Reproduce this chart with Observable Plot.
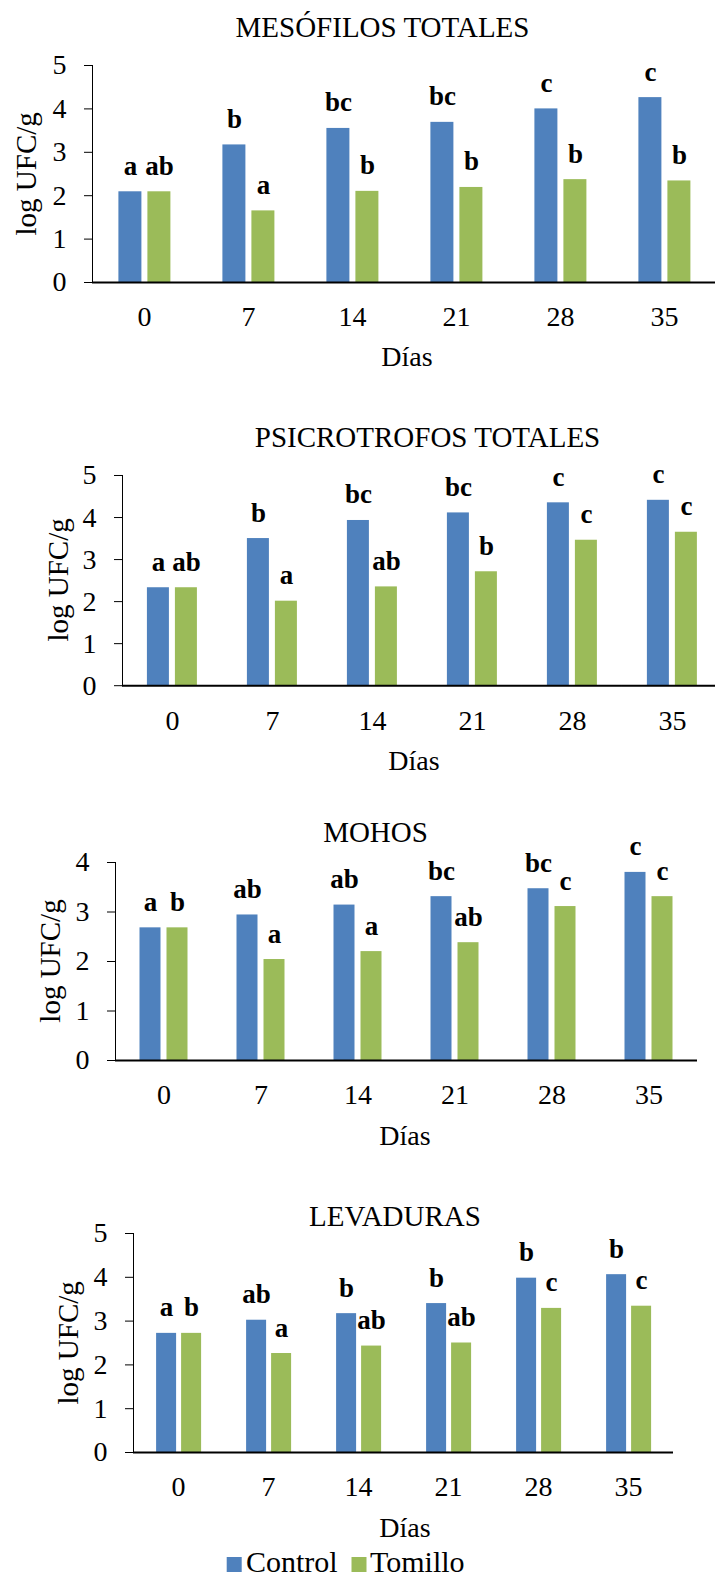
<!DOCTYPE html>
<html><head><meta charset="utf-8">
<script src="https://cdn.jsdelivr.net/npm/d3@7"></script>
<script src="https://cdn.jsdelivr.net/npm/@observablehq/plot@0.6"></script>
<style>
html,body{margin:0;padding:0;background:#fff;}
#page{position:relative;width:715px;height:1580px;overflow:hidden;}
#page svg{position:absolute;left:0;}
#page svg, #page svg text, #page svg g { font-family: "Liberation Serif", "Times New Roman", Times, serif !important; }
</style></head><body><div id="page"></div>
<script>
// ---- data ----
const days = ["0", "7", "14", "21", "28", "35"];
const series = ["Control", "Tomillo"];
const colors = ["#4F81BD", "#9BBB59"];
const titles = ["MESÓFILOS TOTALES", "PSICROTROFOS TOTALES", "MOHOS", "LEVADURAS"];
const yLabel = "log UFC/g";
const xLabel = "Días";
const yTicks5 = [0, 1, 2, 3, 4, 5];
const yTicks4 = [0, 1, 2, 3, 4];

const mesofilosControl = [2.09, 3.17, 3.55, 3.69, 4.00, 4.26];
const mesofilosTomillo = [2.09, 1.65, 2.10, 2.19, 2.37, 2.34];
const mesofilosLetrasControl = ["a", "b", "bc", "bc", "c", "c"];
const mesofilosLetrasTomillo = ["ab", "a", "b", "b", "b", "b"];

const psicroControl = [2.33, 3.50, 3.93, 4.11, 4.35, 4.41];
const psicroTomillo = [2.33, 2.01, 2.35, 2.71, 3.46, 3.65];
const psicroLetrasControl = ["a", "b", "bc", "bc", "c", "c"];
const psicroLetrasTomillo = ["ab", "a", "ab", "b", "c", "c"];

const mohosControl = [2.68, 2.94, 3.14, 3.31, 3.47, 3.80];
const mohosTomillo = [2.68, 2.04, 2.20, 2.38, 3.11, 3.31];
const mohosLetrasControl = ["a", "ab", "ab", "bc", "bc", "c"];
const mohosLetrasTomillo = ["b", "a", "a", "ab", "c", "c"];

const levadurasControl = [2.72, 3.02, 3.17, 3.40, 3.98, 4.06];
const levadurasTomillo = [2.72, 2.26, 2.43, 2.50, 3.29, 3.34];
const levadurasLetrasControl = ["a", "ab", "b", "b", "b", "b"];
const levadurasLetrasTomillo = ["b", "a", "ab", "ab", "c", "c"];

// ---- build ----
const FONT = "Liberation Serif, Times New Roman, Times, serif";

function rows(ctrl, tom, lc, lt) {
  return days.flatMap((d, i) => [
    {day: d, series: "Control", value: ctrl[i], letter: lc[i]},
    {day: d, series: "Tomillo", value: tom[i], letter: lt[i]}
  ]);
}

const datasets = [
  rows(mesofilosControl, mesofilosTomillo, mesofilosLetrasControl, mesofilosLetrasTomillo),
  rows(psicroControl, psicroTomillo, psicroLetrasControl, psicroLetrasTomillo),
  rows(mohosControl, mohosTomillo, mohosLetrasControl, mohosLetrasTomillo),
  rows(levadurasControl, levadurasTomillo, levadurasLetrasControl, levadurasLetrasTomillo)
];

const layouts = [
  {left: 89.6, right: 718, top: 65.3, bottom: 282.3, ticks: yTicks5, titleX: 382.5, titleY: 37, xlabX: 407, xlabY: 366},
  {left: 121.1, right: 722.7, top: 474.8, bottom: 685, ticks: yTicks5, titleX: 427.5, titleY: 447, xlabX: 414, xlabY: 770},
  {left: 113.5, right: 698.5, top: 862, bottom: 1060, ticks: yTicks4, titleX: 375.5, titleY: 842, xlabX: 405, xlabY: 1145},
  {left: 131.9, right: 673.3, top: 1233.3, bottom: 1452.3, ticks: yTicks5, titleX: 395, titleY: 1226, xlabX: 405, xlabY: 1537}
];

const page = document.getElementById("page");

function chart(data, L) {
  const mt = 50, mb = 60;
  const svg = Plot.plot({
    width: 715,
    height: (L.bottom - L.top) + mt + mb,
    marginTop: mt,
    marginBottom: mb,
    marginLeft: L.left,
    marginRight: 715 - L.right,
    style: {fontFamily: FONT, fontSize: "28px", background: "transparent", color: "#000", overflow: "visible"},
    fx: {domain: days, padding: 0, axis: "bottom", tickSize: 0, tickPadding: 24, label: null},
    x: {domain: series, paddingInner: 0.22, paddingOuter: 0.86, axis: null},
    y: {domain: [0, d3.max(L.ticks)], ticks: L.ticks, tickSize: 8, tickPadding: 18, label: null, line: true, tickFormat: d3.format("d")},
    color: {domain: series, range: colors},
    marks: [
      Plot.barY(data, {fx: "day", x: "series", y: "value", fill: "series"}),
      Plot.ruleY([0], {stroke: "#000", strokeWidth: 2}),
      Plot.text(data, {fx: "day", x: "series", y: "value", text: "letter", dy: -17, lineAnchor: "bottom", fontWeight: "bold", fontSize: 27})
    ]
  });
  svg.style.top = (L.top - mt) + "px";
  return svg;
}

datasets.forEach((data, i) => page.appendChild(chart(data, layouts[i])));

// overlay: titles, axis labels, legend
const ov = d3.create("svg")
  .attr("width", 715).attr("height", 1580)
  .style("top", "0px")
  .style("pointer-events", "none");

layouts.forEach((L, i) => {
  ov.append("text").attr("x", L.titleX).attr("y", L.titleY)
    .attr("text-anchor", "middle").attr("font-size", 29).text(titles[i]);
  ov.append("text").attr("x", L.xlabX).attr("y", L.xlabY)
    .attr("text-anchor", "middle").attr("font-size", 28).text(xLabel);
  ov.append("text")
    .attr("transform", `translate(${L.left - 53.6},${(L.top + L.bottom) / 2}) rotate(-90)`)
    .attr("text-anchor", "middle").attr("font-size", 29).text(yLabel);
});

const legend = [
  {name: series[0], color: colors[0], sx: 226.7, tx: 246},
  {name: series[1], color: colors[1], sx: 351.5, tx: 370}
];
legend.forEach(d => {
  ov.append("rect").attr("x", d.sx).attr("y", 1557).attr("width", 15).attr("height", 15).attr("fill", d.color);
  ov.append("text").attr("x", d.tx).attr("y", 1572).attr("font-size", 30).text(d.name);
});

page.appendChild(ov.node());
</script>
</body></html>
